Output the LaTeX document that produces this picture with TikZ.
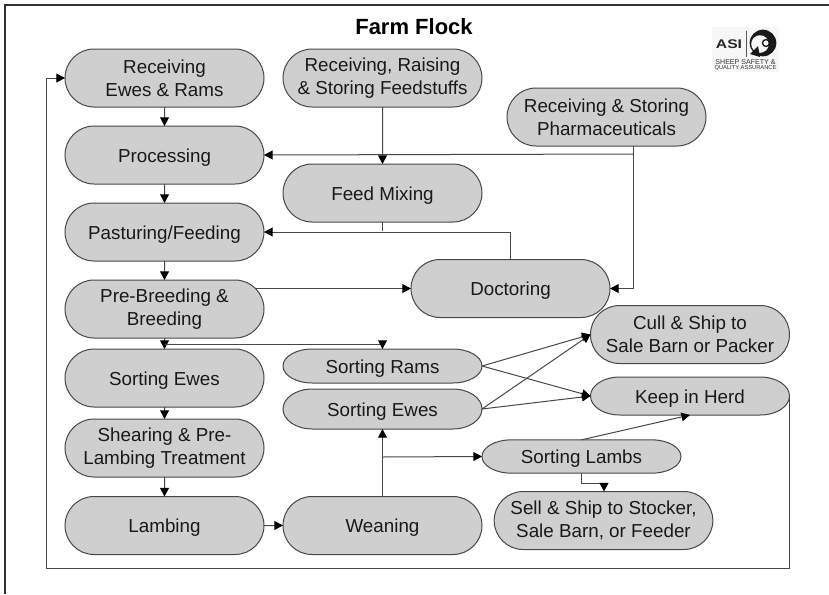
\documentclass[tikz,border=0pt]{standalone}
\usepackage{fontspec}
\setmainfont{Liberation Sans}
\usetikzlibrary{shapes.misc,arrows.meta,backgrounds}
\tikzset{
  x=0.75pt,y=-0.75pt,
  stagetext/.style={inner sep=0pt,outer sep=0pt,align=center,
    font=\fontsize{14.1pt}{17.5pt}\selectfont,text=black!90,minimum width=149.25pt,minimum height=43.5pt},
  stage/.style={stagetext,rounded rectangle,draw=black!72,line width=0.75pt,fill=black!19},
  oneline/.style={text height=10.5pt,text depth=0pt},
  flat/.style={stagetext,oneline,rectangle,minimum height=#1},
  flatline/.style={draw=black!72,line width=0.75pt,fill=black!19},
  link/.style={draw=black!72,line width=0.75pt},
  arrow/.style={link,-{Triangle[length=6.4pt,width=6.6pt,black]}},
}
\newcommand\flatshape[2]{\begin{scope}[on background layer]\draw[flatline] ([xshift=22pt]#1.north west) arc[start angle=90,end angle=270,x radius=22pt,y radius=#2] -- ([xshift=-22pt]#1.south east) arc[start angle=-90,end angle=90,x radius=22pt,y radius=#2] -- cycle;\end{scope}}
\begin{document}
\begin{tikzpicture}
\useasboundingbox (0,0) rectangle (829,594);
\begin{scope}[on background layer]
\fill[white] (0,0) rectangle (829,594);
\fill[black!3] (712,27) rectangle (779,72);
\end{scope}
\draw[black!80,line width=1.1pt] (5,594) -- (5,5) -- (829,5);
\node[font=\bfseries\fontsize{16.5pt}{20pt}\selectfont] (title) at (414,26.5) {Farm Flock};
% logo
\node[font=\bfseries\fontsize{9.4pt}{10pt}\selectfont,inner sep=0pt,xscale=1.25,text=black!85] (asi) at (729,44.5) {ASI};
\coordinate (rulea) at (746,31);
\coordinate (ruleb) at (746,57);
\draw[black!65,line width=0.4pt] (rulea) -- (ruleb);
\fill[black!90] (763,43) circle[radius=10pt];
\fill[black!3] (760,44) circle[radius=6.6pt];
\draw[black!90,line width=1pt] (766,43) circle[radius=2.6pt];
\fill[black!90] (750,54) -- (758,46) -- (760,57) -- cycle;
\node[font=\fontsize{5.3pt}{4pt}\selectfont,inner sep=0pt,text=black!80] (asitexta) at (745.5,62.5) {SHEEP SAFETY \&};
\node[font=\fontsize{4.3pt}{4pt}\selectfont,inner sep=0pt,text=black!80] (asitextb) at (745.5,67.8) {QUALITY ASSURANCE};
% stages
\node[stage] (recv) at (164.5,78) {Receiving\\Ewes \& Rams};
\node[stage,oneline] (proc) at (164.5,155) {Processing};
\node[stage,oneline] (past) at (164.5,232) {Pasturing/Feeding};
\node[stage] (pre) at (164.5,309) {Pre-Breeding \&\\Breeding};
\node[stage,oneline] (sew) at (164.5,378) {Sorting Ewes};
\node[stage] (shear) at (164.5,448) {Shearing \& Pre-\\Lambing Treatment};
\node[stage,oneline] (lamb) at (164.5,525.5) {Lambing};
\node[stage,oneline] (wean) at (382.5,525.5) {Weaning};
\node[stage] (feedst) at (382.5,78) {Receiving, Raising\\\& Storing Feedstuffs};
\node[stage,oneline] (mix) at (382.5,193) {Feed Mixing};
\node[stage] (pharm) at (606.5,117) {Receiving \& Storing\\Pharmaceuticals};
\node[stage,oneline] (doc) at (510.5,288.5) {Doctoring};
\node[stage] (cull) at (690,334.5) {Cull \& Ship to\\Sale Barn or Packer};
\node[flat=28.5pt] (keep) at (690,396) {Keep in Herd};
\flatshape{keep}{14.25pt}
\node[flat=25.5pt] (srams) at (382.5,366) {Sorting Rams};
\flatshape{srams}{12.75pt}
\node[flat=30pt] (sew2) at (382.5,409) {Sorting Ewes};
\flatshape{sew2}{15pt}
\node[flat=25pt] (slamb) at (581.5,456.5) {Sorting Lambs};
\flatshape{slamb}{12.5pt}
\node[stage,minimum width=164pt] (sell) at (603.5,520.5) {Sell \& Ship to Stocker,\\Sale Barn, or Feeder};
% helper points
\coordinate (prej) at (164.5,344);
\coordinate (prex) at (256,288.5);
\coordinate (pharmj) at (633,154);
\coordinate (pharmb) at (633,146);
\coordinate (mixj) at (382.5,231);
\coordinate (wj) at (382.5,457);
\coordinate (lj) at (581.5,483);
\coordinate (lk) at (604,483);
\coordinate (fl) at (46,568);
% connectors
\draw[arrow] (recv) -- (proc);
\draw[arrow] (proc) -- (past);
\draw[arrow] (past) -- (pre);
\draw[arrow] (pre) -- (sew);
\draw[arrow] (sew) -- (shear);
\draw[arrow] (shear) -- (lamb);
\draw[arrow] (lamb) -- (wean);
\draw[arrow] (feedst) -- (mix);
\draw[arrow] (prex) -- (doc.west);
\draw[arrow] (prej) -| (srams.north);
\draw[arrow] (pharmj) -- (proc.east);
\draw[arrow] (pharmb) |- (doc.east);
\draw[link] (mix.south) -- (mixj);
\draw[arrow] (doc.north) |- (past.east);
\draw[arrow] (wean.north) -- (sew2.south);
\draw[arrow] (wj) -- (slamb.west);
\draw[arrow] (srams.east) -- (cull.west);
\draw[arrow] (srams.east) -- (keep.west);
\draw[arrow] (sew2.east) -- (cull.west);
\draw[arrow] (sew2.east) -- (keep.west);
\draw[arrow] (slamb.north) -- (keep.south);
\draw[arrow] (slamb.south) -- (lj) -- (lk) -- (lk |- sell.north);
\draw[arrow] (keep.east) |- (fl) |- (recv.west);
\end{tikzpicture}
\end{document}
